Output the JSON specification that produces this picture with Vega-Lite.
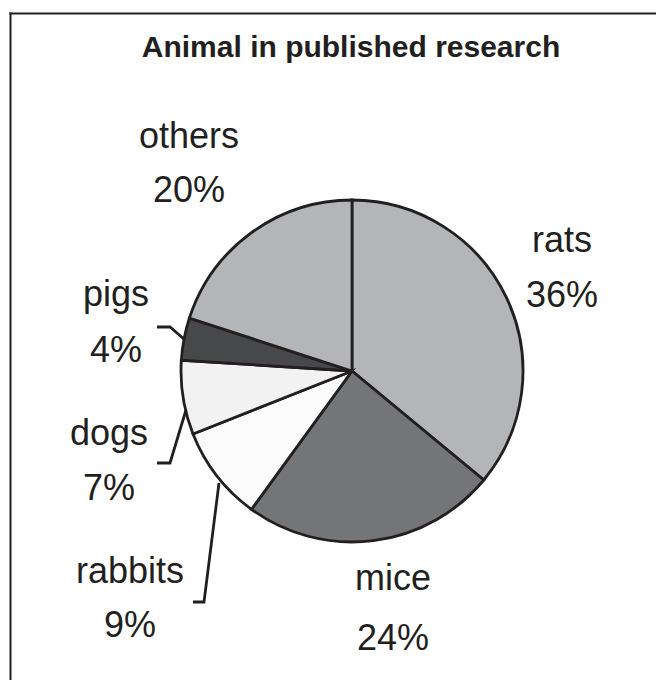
{
  "$schema": "https://vega.github.io/schema/vega-lite/v6.json",
  "width": 646,
  "height": 667,
  "autosize": {"type": "none"},
  "padding": {"left": 10, "top": 13, "right": 0, "bottom": 0},
  "background": "white",
  "title": {
    "text": "Animal in published research",
    "anchor": "middle",
    "frame": "group",
    "orient": "top",
    "offset": -74,
    "baseline": "alphabetic",
    "dx": 18,
    "fontSize": 30,
    "fontWeight": "bold",
    "font": "Liberation Sans",
    "color": "#231f20"
  },
  "config": {
    "view": {"stroke": null},
    "axis": {
      "domainColor": "#231f20",
      "domainWidth": 2,
      "domainCap": "square",
      "ticks": false,
      "labels": false,
      "grid": false,
      "title": null
    }
  },
  "datasets": {
    "shares": [
      {"animal": "rats", "share": 0.36, "idx": 1},
      {"animal": "mice", "share": 0.24, "idx": 2},
      {"animal": "rabbits", "share": 0.09, "idx": 3},
      {"animal": "dogs", "share": 0.07, "idx": 4},
      {"animal": "pigs", "share": 0.04, "idx": 5},
      {"animal": "others", "share": 0.20, "idx": 6}
    ],
    "labels": [
      {"animal": "rats", "share": 0.36, "x": 210, "yName": 119, "yPct": 64},
      {"animal": "mice", "share": 0.24, "x": 41, "yName": -219, "yPct": -279},
      {"animal": "rabbits", "share": 0.09, "x": -222, "yName": -212, "yPct": -266},
      {"animal": "dogs", "share": 0.07, "x": -243, "yName": -74, "yPct": -129},
      {"animal": "pigs", "share": 0.04, "x": -236, "yName": 65, "yPct": 9},
      {"animal": "others", "share": 0.20, "x": -163, "yName": 223, "yPct": 169}
    ],
    "leaders": [
      {"leader": "pigs", "seq": 1, "x": -195, "y": 44},
      {"leader": "pigs", "seq": 2, "x": -182, "y": 44},
      {"leader": "pigs", "seq": 3, "x": -167, "y": 31},
      {"leader": "dogs", "seq": 1, "x": -166, "y": -39},
      {"leader": "dogs", "seq": 2, "x": -182, "y": -92},
      {"leader": "dogs", "seq": 3, "x": -195, "y": -92},
      {"leader": "rabbits", "seq": 1, "x": -133, "y": -112},
      {"leader": "rabbits", "seq": 2, "x": -148, "y": -231},
      {"leader": "rabbits", "seq": 3, "x": -159, "y": -231}
    ]
  },
  "layer": [
    {
      "data": {"name": "shares"},
      "mark": {"type": "arc", "radius": 171, "stroke": "#231f20", "strokeWidth": 2.8},
      "encoding": {
        "x": {"datum": 0, "type": "quantitative", "scale": {"domain": [-342, 304], "nice": false, "zero": false}, "axis": {"orient": "top", "title": null}},
        "y": {"datum": 0, "type": "quantitative", "scale": {"domain": [-309, 358], "nice": false, "zero": false}, "axis": {"orient": "left", "title": null}},
        "theta": {"field": "share", "type": "quantitative", "stack": true},
        "order": {"field": "idx", "type": "quantitative", "sort": "ascending"},
        "color": {
          "field": "animal",
          "type": "nominal",
          "scale": {
            "domain": ["rats", "mice", "rabbits", "dogs", "pigs", "others"],
            "range": ["#b4b5b9", "#747578", "#fbfbfb", "#f2f2f3", "#47484a", "#b4b5b9"]
          },
          "legend": null
        }
      }
    },
    {
      "data": {"name": "leaders"},
      "mark": {"type": "line", "stroke": "#231f20", "strokeWidth": 2.8},
      "encoding": {
        "x": {"field": "x", "type": "quantitative"},
        "y": {"field": "y", "type": "quantitative"},
        "detail": {"field": "leader", "type": "nominal"},
        "order": {"field": "seq", "type": "quantitative"}
      }
    },
    {
      "data": {"name": "labels"},
      "mark": {"type": "text", "align": "center", "baseline": "alphabetic", "fontSize": 36, "font": "Liberation Sans", "color": "#231f20"},
      "encoding": {
        "x": {"field": "x", "type": "quantitative"},
        "y": {"field": "yName", "type": "quantitative"},
        "text": {"field": "animal", "type": "nominal"}
      }
    },
    {
      "data": {"name": "labels"},
      "mark": {"type": "text", "align": "center", "baseline": "alphabetic", "fontSize": 36, "font": "Liberation Sans", "color": "#231f20"},
      "encoding": {
        "x": {"field": "x", "type": "quantitative"},
        "y": {"field": "yPct", "type": "quantitative"},
        "text": {"field": "share", "type": "quantitative", "format": ".0%"}
      }
    }
  ]
}
